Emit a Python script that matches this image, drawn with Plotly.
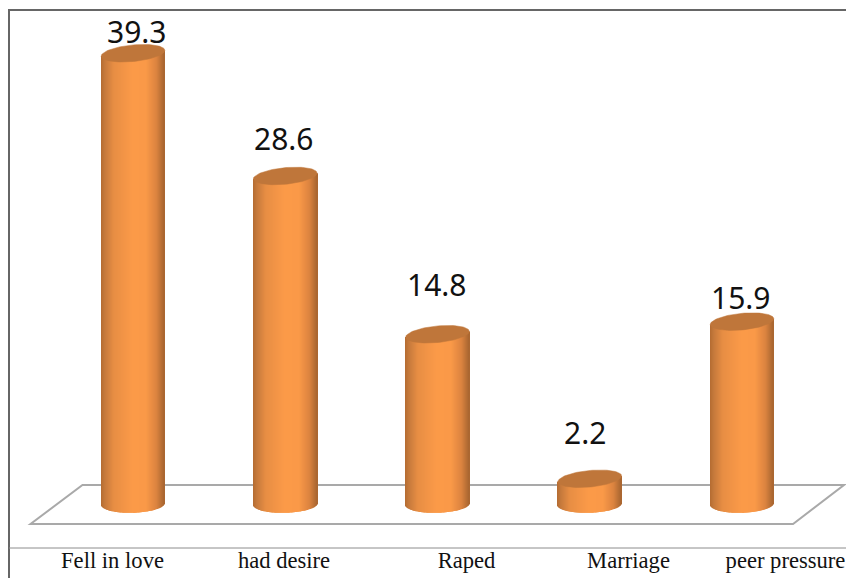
import numpy as np
import plotly.graph_objects as go

categories = ["Fell in love", "had desire", "Raped", "Marriage", "peer pressure"]
values = [39.3, 28.6, 14.8, 2.2, 15.9]
value_labels = ["39.3", "28.6", "14.8", "2.2", "15.9"]

# Layout calibration, in pixels of the 846x578 picture
W, H, AXIS_BOTTOM = 846, 578, 548
X0, X_STEP = 133.0, 152.25      # centre of the first bar, spacing
Y0, Y_UNIT = 504.0, 11.47       # pixel height of value 0, pixels per unit
HALF_W = 31.8
CAP_B, CAP_SLOPE = 8.3, 0.09
BASE_B, BASE_SLOPE = 8.8, 0.03
label_px = [(137, 31), (284, 138), (437, 284), (585, 432), (741, 297)]
tick_px = [112.5, 284, 466.5, 628.5, 785.5]
floor_px = [(82.5, 485), (844, 485), (793, 524), (30.5, 524)]
shade_stops = [0, .06, .2, .5, .72, .88, 1]
shade_rgb = [(180, 108, 50), (198, 122, 60), (232, 142, 68), (252, 155, 73),
             (250, 153, 72), (220, 132, 64), (168, 102, 48)]
CAP_COLOR = "#bf763a"
N_STRIPS = 64

xv = lambda px: (px - X0) / X_STEP
yv = lambda py: (Y0 - py) / Y_UNIT
xaxis_range = [xv(0), xv(W)]
yaxis_range = [yv(AXIS_BOTTOM), yv(0)]

fig = go.Figure()

# Cylinder side built as narrow shaded bars, each following the elliptical edges
strip_w = 2 * HALF_W / N_STRIPS
for s in range(N_STRIPS):
    dx = -HALF_W + (s + 0.5) * strip_w
    t = (s + 0.5) / N_STRIPS
    rgb = [int(np.interp(t, shade_stops, [c[k] for c in shade_rgb])) for k in range(3)]
    root = np.sqrt(max(0.0, 1 - (dx / HALF_W) ** 2))
    low = (BASE_SLOPE * dx - BASE_B * root) / Y_UNIT
    base = [low] * len(values)
    tops = [v + CAP_SLOPE * dx / Y_UNIT for v in values]
    fig.add_trace(go.Bar(
        x=list(range(len(values))),
        y=[tp - b for tp, b in zip(tops, base)],
        base=base,
        offset=(dx - strip_w / 2) / X_STEP,
        width=(strip_w * 1.2) / X_STEP,
        marker=dict(color=f"rgb({rgb[0]},{rgb[1]},{rgb[2]})", line=dict(width=0)),
        hoverinfo="skip", showlegend=False,
    ))

# Top caps
theta = np.linspace(0, 2 * np.pi, 90)
for i, v in enumerate(values):
    px = HALF_W * np.cos(theta)
    py = CAP_B * np.sin(theta)
    fig.add_trace(go.Scatter(
        x=i + px / X_STEP,
        y=v + (CAP_SLOPE * px + py) / Y_UNIT,
        mode="lines", fill="toself", fillcolor=CAP_COLOR,
        line=dict(color=CAP_COLOR, width=0.5),
        hoverinfo="skip", showlegend=False,
    ))

# Data labels
annotations = [
    dict(x=xv(px), y=yv(py), text=t, showarrow=False, xanchor="center", yanchor="middle",
         font=dict(family="Noto Sans", size=30, color="#111111"))
    for t, (px, py) in zip(value_labels, label_px)
]

# Floor and frame
fx = lambda px: px / W
fy = lambda py: 1 - py / AXIS_BOTTOM
floor_path = "M " + " L ".join(f"{fx(a):.4f},{fy(b):.4f}" for a, b in floor_px) + " Z"
shapes = [
    dict(type="path", xref="paper", yref="paper", path=floor_path, layer="below",
         line=dict(color="#a9a9a9", width=2), fillcolor="white"),
    dict(type="line", xref="paper", yref="paper", x0=fx(8), x1=1, y0=fy(10), y1=fy(10),
         line=dict(color="#666666", width=2), layer="above"),
    dict(type="line", xref="paper", yref="paper", x0=fx(9), x1=fx(9), y0=fy(10), y1=fy(H),
         line=dict(color="#666666", width=2), layer="above"),
    dict(type="line", xref="paper", yref="paper", x0=fx(9), x1=1, y0=fy(548), y1=fy(548),
         line=dict(color="#8c8c8c", width=1), layer="above"),
]

fig.update_layout(
    width=W, height=H, margin=dict(l=0, r=0, t=0, b=H - AXIS_BOTTOM),
    paper_bgcolor="white", plot_bgcolor="white", barmode="overlay",
    shapes=shapes, annotations=annotations, showlegend=False,
)
fig.update_xaxes(
    range=xaxis_range, tickmode="array", tickvals=[xv(p) for p in tick_px], ticktext=categories,
    showgrid=False, zeroline=False, showline=False, ticks="", automargin=False, ticklabelstandoff=-4,
    tickfont=dict(family="Liberation Serif", size=22.6, color="#111111"),
)
fig.update_yaxes(range=yaxis_range, showgrid=False, zeroline=False, showticklabels=False, ticks="",
                 automargin=False)
fig.write_html("out.html", config=dict(displayModeBar=False),
               post_script="document.body.style.margin='0';document.body.style.overflow='hidden';window.dispatchEvent(new Event('resize'));")
